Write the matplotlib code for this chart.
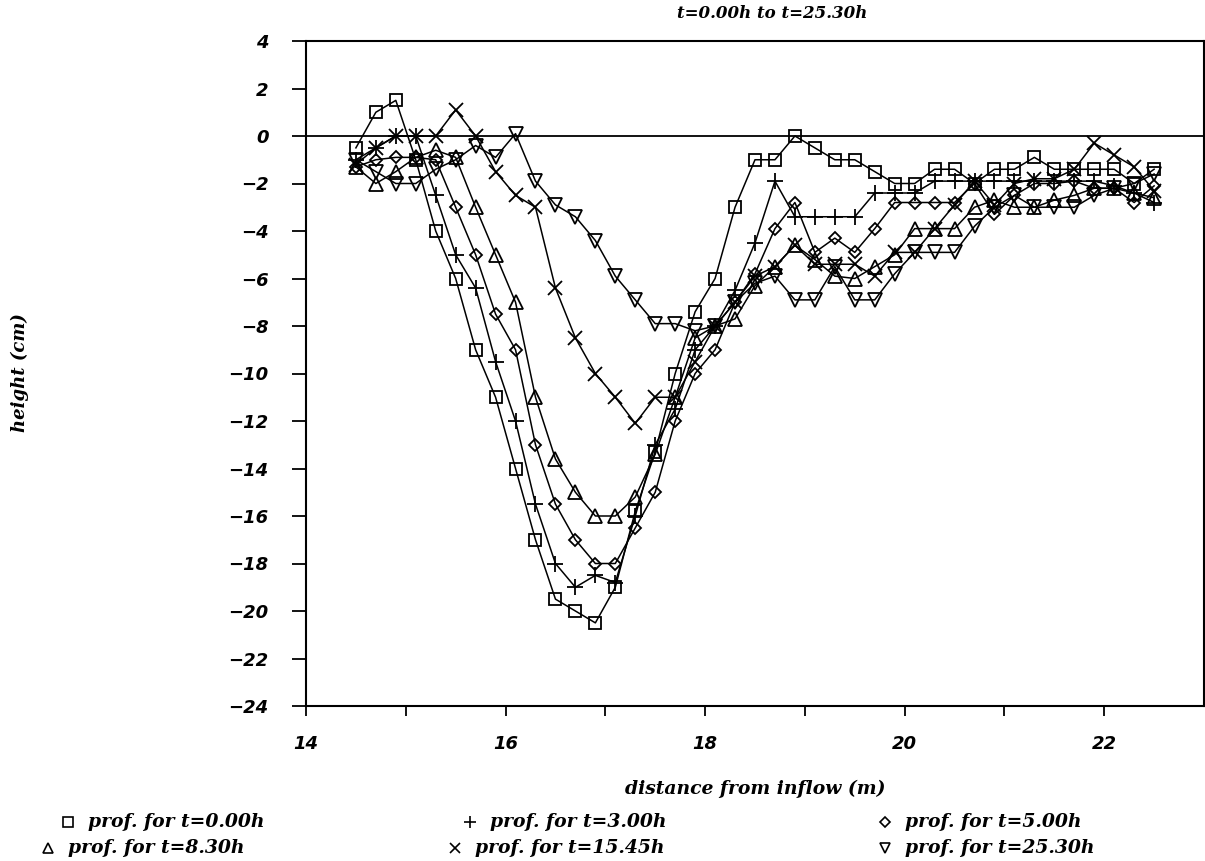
import matplotlib
matplotlib.use('Agg')
import matplotlib.pyplot as plt
from matplotlib.lines import Line2D

# ── data ──
distance = [14.5, 14.7, 14.9, 15.1, 15.3, 15.5, 15.7, 15.9, 16.1, 16.3,
            16.5, 16.7, 16.9, 17.1, 17.3, 17.5, 17.7, 17.9, 18.1, 18.3,
            18.5, 18.7, 18.9, 19.1, 19.3, 19.5, 19.7, 19.9, 20.1, 20.3,
            20.5, 20.7, 20.9, 21.1, 21.3, 21.5, 21.7, 21.9, 22.1, 22.3, 22.5]

h_t000 = [-0.5, 1.0, 1.5, -1.0, -4.0, -6.0, -9.0, -11.0, -14.0, -17.0,
          -19.5, -20.0, -20.5, -19.0, -15.8, -13.3, -10.0, -7.4, -6.0, -3.0,
          -1.0, -1.0, 0.0, -0.5, -1.0, -1.0, -1.5, -2.0, -2.0, -1.4,
          -1.4, -2.0, -1.4, -1.4, -0.9, -1.4, -1.4, -1.4, -1.4, -2.0, -1.4]
h_t300 = [-1.0, -0.5, 0.0, 0.0, -2.5, -5.0, -6.4, -9.5, -12.0, -15.5,
          -18.0, -19.0, -18.5, -18.8, -16.0, -13.0, -11.5, -9.0, -8.0, -6.5,
          -4.5, -1.9, -3.4, -3.4, -3.4, -3.4, -2.4, -2.4, -2.4, -1.9,
          -1.9, -1.9, -1.9, -1.9, -1.9, -1.9, -1.9, -1.9, -2.1, -2.4, -2.8]
h_t500 = [-1.3, -1.0, -0.9, -0.9, -1.0, -3.0, -5.0, -7.5, -9.0, -13.0,
          -15.5, -17.0, -18.0, -18.0, -16.5, -15.0, -12.0, -10.0, -9.0, -7.0,
          -5.8, -3.9, -2.8, -4.9, -4.3, -4.9, -3.9, -2.8, -2.8, -2.8,
          -2.8, -2.0, -3.3, -2.5, -2.0, -2.0, -1.9, -2.2, -2.2, -2.8, -2.1]
h_t830 = [-1.3, -2.0, -1.5, -0.9, -0.6, -0.9, -3.0, -5.0, -7.0, -11.0,
          -13.6, -15.0, -16.0, -16.0, -15.2, -13.4, -11.0, -8.5, -8.0, -7.7,
          -6.3, -5.5, -4.6, -5.2, -5.9, -6.0, -5.5, -5.0, -3.9, -3.9,
          -3.9, -3.0, -2.7, -3.0, -3.0, -2.7, -2.5, -2.2, -2.2, -2.4, -2.6]
h_t1545 = [-1.2, -0.5, 0.0, 0.0, 0.0, 1.1, 0.0, -1.5, -2.5, -3.0,
           -6.4, -8.5, -10.0, -11.0, -12.1, -11.0, -11.0, -9.5, -8.0, -7.0,
           -5.9, -5.5, -4.6, -5.4, -5.4, -5.4, -5.9, -4.9, -4.9, -3.9,
           -2.9, -1.9, -2.9, -2.0, -1.8, -1.8, -1.4, -0.3, -0.8, -1.3, -2.3]
h_t2530 = [-1.0, -1.5, -2.0, -2.0, -1.4, -1.0, -0.4, -0.9, 0.1, -1.9,
           -2.9, -3.4, -4.4, -5.9, -6.9, -7.9, -7.9, -8.2, -8.0, -7.0,
           -6.2, -5.9, -6.9, -6.9, -5.5, -6.9, -6.9, -5.8, -4.9, -4.9,
           -4.9, -3.8, -3.0, -2.5, -3.0, -3.0, -3.0, -2.5, -2.2, -2.0, -1.6]

labels = ['prof. for t=0.00h', 'prof. for t=3.00h', 'prof. for t=5.00h',
          'prof. for t=8.30h', 'prof. for t=15.45h', 'prof. for t=25.30h']
series = [h_t000, h_t300, h_t500, h_t830, h_t1545, h_t2530]
markers = ['s', '+', 'D', '^', 'x', 'v']
msizes = [9, 11, 6.5, 10, 10, 10]

W, H = 1205, 861
txt = dict(family='DejaVu Serif', weight='bold', style='italic')
tick_font = dict(family='DejaVu Sans', weight='bold', style='oblique', size=13)

fig = plt.figure(figsize=(W / 100, H / 100), dpi=100)
ax = fig.add_axes([306 / W, 1 - 706 / H, (1204 - 306) / W, (706 - 41) / H])

for vals, mk, ms in zip(series, markers, msizes):
    ax.plot(distance, vals, color='black', lw=1.1, marker=mk, ms=ms,
            mfc='none', mec='black', mew=1.3, zorder=3)

ax.axhline(0, color='black', lw=1.3, zorder=2)

ax.set_xlim(14, 23)
ax.set_ylim(-24, 4)
ax.set_xticks([14, 16, 18, 20, 22])
ax.set_xticks([15, 17, 19, 21], minor=True)
ax.set_yticks(range(-24, 5, 2))
ax.set_xticklabels([str(v) for v in [14, 16, 18, 20, 22]], **tick_font)
ax.set_yticklabels([f'{v}'.replace('-', '\u2212') for v in range(-24, 5, 2)], **tick_font)
ax.tick_params(axis='x', which='both', direction='out', length=7, width=1.3, pad=14)
ax.tick_params(axis='y', direction='out', length=10, width=1.3, pad=17)
for s in ax.spines.values():
    s.set_linewidth(1.5)

# titles / axis labels
fig.text(772 / W, 1 - 13 / H, 't=0.00h to t=25.30h', ha='center', va='center',
         fontsize=12, **txt)
fig.text(755 / W, 1 - 789 / H, 'distance from inflow (m)', ha='center', va='center',
         fontsize=13.5, **txt)
fig.text(20 / W, 1 - 373 / H, 'height (cm)', ha='center', va='center',
         rotation=90, fontsize=13, **txt)

# legend below the plot, three columns
leg_pos = [(68, 822), (470, 822), (885, 822),
           (48, 848), (455, 848), (885, 848)]
for (mx, my), mk, ms, lab in zip(leg_pos, markers, msizes, labels):
    fig.add_artist(Line2D([mx / W], [1 - my / H], marker=mk, ms=ms * 0.75,
                          mfc='none', mec='black', mew=1.2, ls='none',
                          transform=fig.transFigure))
    fig.text((mx + 20) / W, 1 - my / H, lab, ha='left', va='center',
             fontsize=13.5, **txt)

fig.savefig('out.png', dpi=100, facecolor='white')
